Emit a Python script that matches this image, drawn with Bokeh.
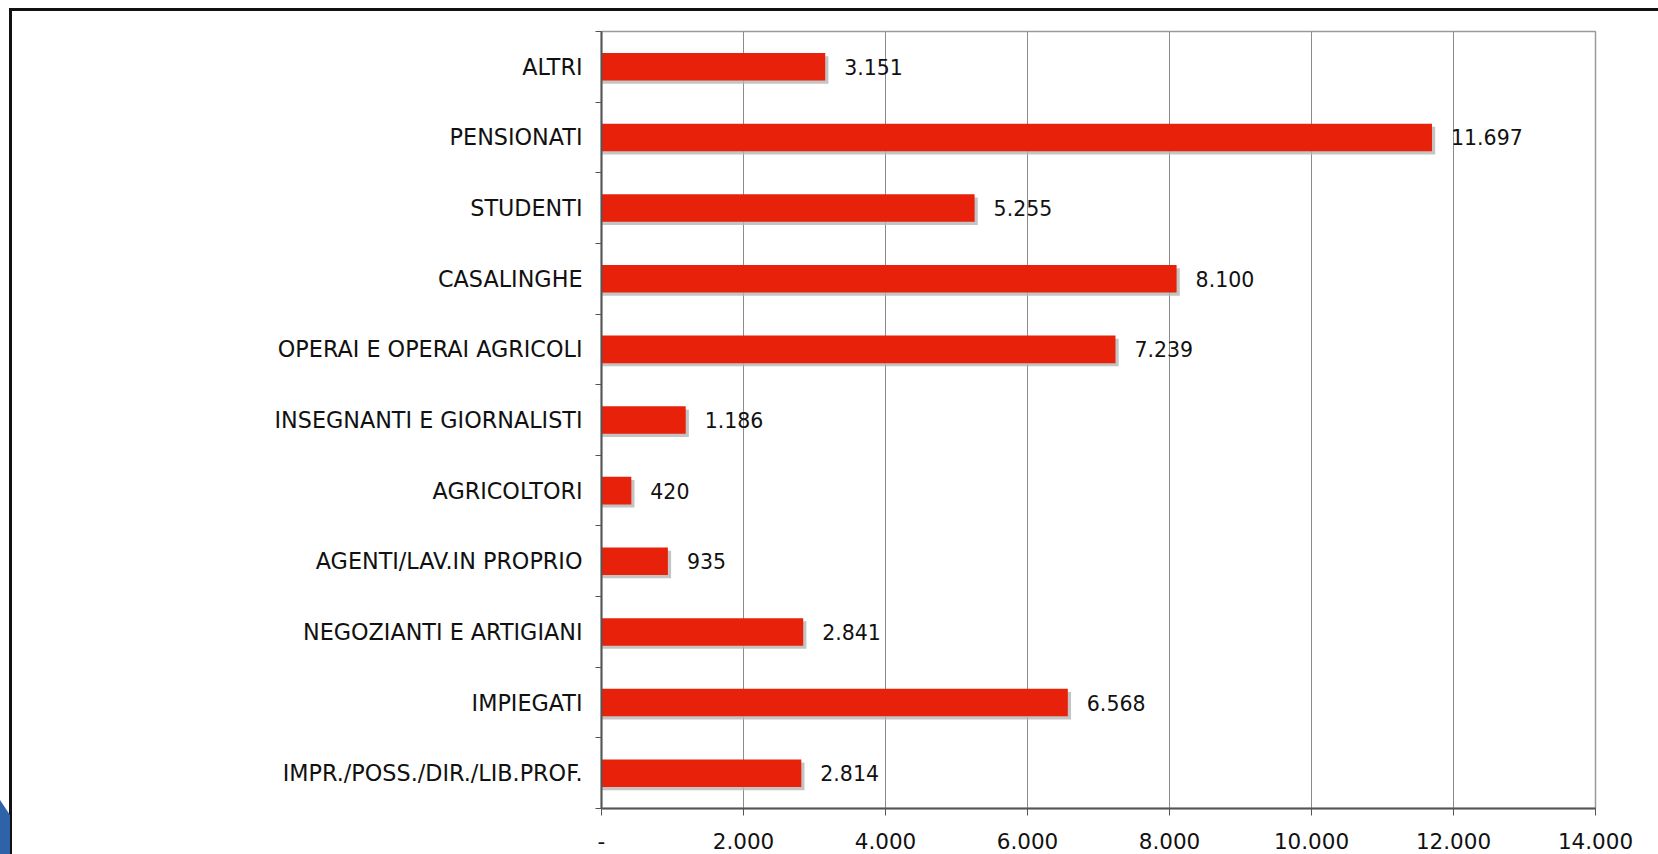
from bokeh.plotting import figure
from bokeh.models import (Range1d, LinearAxis, FixedTicker, ColumnDataSource, InlineStyleSheet)
from bokeh.transform import dodge
from bokeh.embed import file_html
from bokeh.resources import INLINE
from bokeh.core.properties import value

# ---- data (bottom to top) ----
categories = ["IMPR./POSS./DIR./LIB.PROF.", "IMPIEGATI", "NEGOZIANTI E ARTIGIANI",
              "AGENTI/LAV.IN PROPRIO", "AGRICOLTORI", "INSEGNANTI E GIORNALISTI",
              "OPERAI E OPERAI AGRICOLI", "CASALINGHE", "STUDENTI", "PENSIONATI", "ALTRI"]
values = [2814, 6568, 2841, 935, 420, 1186, 7239, 8100, 5255, 11697, 3151]
x_ticks = [0, 2000, 4000, 6000, 8000, 10000, 12000, 14000]
x_tick_labels = ["-", "2.000", "4.000", "6.000", "8.000", "10.000", "12.000", "14.000"]

n = len(categories)
y_pos = [i + 0.5 for i in range(n)]          # category slot centres
y_bounds = list(range(n + 1))                # slot boundaries (tick marks)
value_labels = [f"{v:,}".replace(",", ".") for v in values]
src = ColumnDataSource(dict(y=y_pos, cat=categories, val=values, lab=value_labels))

FONT = "DejaVu Sans"
TXT = "#111111"

frame_css = InlineStyleSheet(css="""
:host { position: relative; }
:host::before {
  content: ""; position: absolute; left: 9px; top: 8px; right: 0; bottom: 0;
  border-left: 3px solid #111; border-top: 3px solid #111;
  z-index: 5; pointer-events: none;
}
:host::after {
  content: ""; position: absolute; left: 0; bottom: 0; width: 10px; height: 54px;
  background: #2f63a9; clip-path: polygon(0 0, 100% 28%, 100% 100%, 0 100%);
  z-index: 5; pointer-events: none;
}
""")

p = figure(y_range=Range1d(0, n), x_range=Range1d(0, 14000),
           frame_width=994, frame_height=777,
           min_border_left=601, min_border_right=63, min_border_top=31, min_border_bottom=46,
           output_backend="svg", toolbar_location=None,
           x_axis_location=None, y_axis_location=None,
           background_fill_color="white", border_fill_color="white",
           stylesheets=[frame_css])

p.outline_line_color = "#9a9a9a"
p.outline_line_width = 1.5

# x axis
xaxis = LinearAxis(ticker=FixedTicker(ticks=x_ticks),
                   major_label_overrides=dict(zip(x_ticks, x_tick_labels)))
xaxis.axis_line_color = "#555555"
xaxis.axis_line_width = 2
xaxis.major_tick_line_color = "#555555"
xaxis.major_tick_out = 7
xaxis.major_tick_in = 0
xaxis.minor_tick_line_color = None
xaxis.major_label_standoff = 17
xaxis.major_label_text_font = FONT
xaxis.major_label_text_font_size = "21.5px"
xaxis.major_label_text_color = TXT
p.add_layout(xaxis, "below")

# y axis: labels at slot centres, tick marks at slot boundaries
yaxis = LinearAxis(ticker=FixedTicker(ticks=y_pos, minor_ticks=y_bounds),
                   major_label_overrides=dict(zip(y_pos, categories)))
yaxis.axis_line_color = "#555555"
yaxis.axis_line_width = 2
yaxis.major_tick_line_color = None
yaxis.major_tick_out = 0
yaxis.major_tick_in = 0
yaxis.minor_tick_line_color = "#555555"
yaxis.minor_tick_out = 6
yaxis.minor_tick_in = 0
yaxis.major_label_standoff = 13
yaxis.major_label_text_font = FONT
yaxis.major_label_text_font_size = "22.3px"
yaxis.major_label_text_color = TXT
p.add_layout(yaxis, "left")

p.ygrid.grid_line_color = None
p.xgrid.grid_line_color = "#8c8c8c"
p.xgrid.grid_line_width = 1

# shadows
p.hbar(y=dodge("y", -0.045), left=0, right=dodge("val", 45),
       height=0.39, fill_color="#b5b5b5", fill_alpha=0.8, line_color=None, source=src)
# bars
p.hbar(y="y", left=0, right="val", height=0.39, fill_color="#E8220A",
       line_color=None, source=src)
# value labels
p.text(x="val", y="y", text="lab", x_offset=19, text_baseline="middle",
       text_font=value(FONT), text_font_size=value("20.5px"), text_color=TXT, source=src)

open("out.html", "w").write(file_html(p, INLINE))
